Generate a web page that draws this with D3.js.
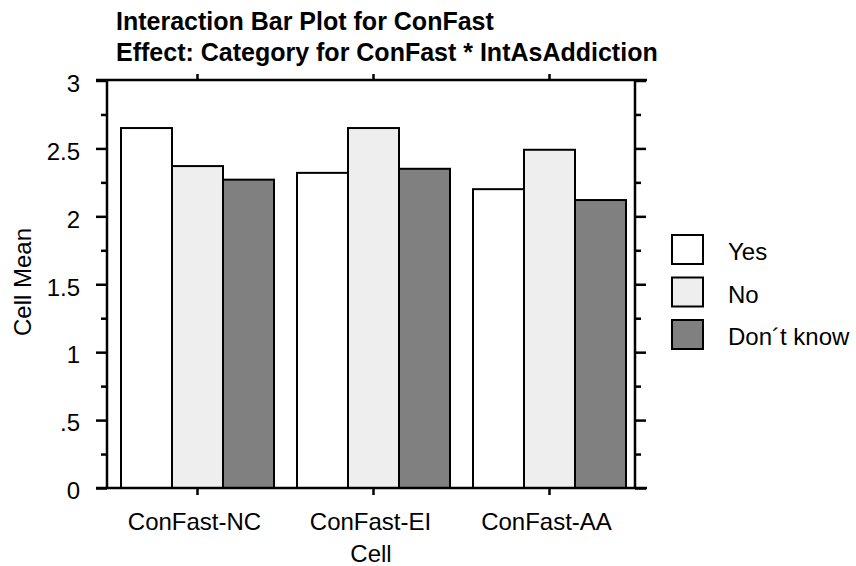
<!DOCTYPE html>
<html><head><meta charset="utf-8">
<script src="https://cdn.jsdelivr.net/npm/d3@7"></script>
<style>
body{margin:0;background:#fff;}
text{font-family:"Liberation Sans",Arial,sans-serif;fill:#000;}
</style></head>
<body><svg id="c" width="856" height="566"></svg>
<script>
const categories = ["ConFast-NC", "ConFast-EI", "ConFast-AA"];
const seriesNames = ["Yes", "No", "Don´t know"];
const yesValues = [2.65, 2.32, 2.20];
const noValues = [2.37, 2.65, 2.49];
const dontKnowValues = [2.27, 2.35, 2.12];
const yTickValues = [0, 0.5, 1, 1.5, 2, 2.5, 3];
const yTickLabels = ["0", ".5", "1", "1.5", "2", "2.5", "3"];
const yMinorTicks = [0.25, 0.75, 1.25, 1.75, 2.25, 2.75];
const titleLines = ["Interaction Bar Plot for ConFast", "Effect: Category for ConFast * IntAsAddiction"];
const fills = ["#ffffff", "#eeeeee", "#808080"];

const series = [yesValues, noValues, dontKnowValues];
const svg = d3.select("#c");
const frameL = 107, frameR = 635, frameT = 80, frameB = 488;
const fs = "24px";

const y = d3.scaleLinear().domain([0, 3]).range([frameB, frameT + 0.5]);
const x0 = d3.scaleBand().domain(categories).range([121, 626]).paddingInner(0.1307).paddingOuter(0);
const x1 = d3.scaleBand().domain(seriesNames).range([0, x0.bandwidth()]).padding(0);

// bars
const g = svg.append("g");
categories.forEach((c, i) => {
  seriesNames.forEach((s, j) => {
    g.append("rect")
      .attr("x", x0(c) + x1(s))
      .attr("y", y(series[j][i]))
      .attr("width", x1.bandwidth())
      .attr("height", y(0) - y(series[j][i]))
      .attr("fill", fills[j])
      .attr("stroke", "#000")
      .attr("stroke-width", 2);
  });
});

// axes
const sw = 2.5;
const leftAxis = d3.axisLeft(y).tickValues(yTickValues).tickSize(11).tickSizeOuter(0).tickPadding(16)
  .tickFormat((d, i) => yTickLabels[i]);
const gl = svg.append("g").attr("transform", `translate(${frameL},0)`).call(leftAxis);
gl.selectAll("text").style("font-size", fs).attr("dy", "0.45em").attr("x", -27);
gl.append("g").call(d3.axisLeft(y).tickValues(yMinorTicks).tickSize(6).tickFormat(""));

const gr = svg.append("g").attr("transform", `translate(${frameR},0)`)
  .call(d3.axisRight(y).tickValues(yTickValues).tickSize(11).tickSizeOuter(0).tickFormat(""));
gr.append("g").call(d3.axisRight(y).tickValues(yMinorTicks).tickSize(6).tickFormat(""));

const gb = svg.append("g").attr("transform", `translate(0,${frameB})`)
  .call(d3.axisBottom(x0).tickSize(7).tickSizeOuter(0));
gb.selectAll("text").style("font-size", fs).attr("y", 42).attr("dy", 0).attr("dx", -3);
const gt = svg.append("g").attr("transform", `translate(0,${frameT})`)
  .call(d3.axisTop(x0).tickSize(6).tickSizeOuter(0).tickFormat(""));

[gl, gr, gb, gt].forEach(a => {
  a.selectAll(".domain").remove();
  a.selectAll("line").attr("stroke", "#000").attr("stroke-width", sw);
});
// frame lines
svg.append("line").attr("x1", 96).attr("x2", 647).attr("y1", frameT).attr("y2", frameT).attr("stroke", "#000").attr("stroke-width", sw);
svg.append("line").attr("x1", 96).attr("x2", 647).attr("y1", frameB).attr("y2", frameB).attr("stroke", "#000").attr("stroke-width", sw);
svg.append("line").attr("x1", frameL).attr("x2", frameL).attr("y1", frameT).attr("y2", frameB).attr("stroke", "#000").attr("stroke-width", sw);
svg.append("line").attr("x1", frameR).attr("x2", frameR).attr("y1", frameT).attr("y2", frameB).attr("stroke", "#000").attr("stroke-width", sw);

// titles
titleLines.forEach((t, i) => {
  svg.append("text").attr("x", 116).attr("y", 30 + i * 31)
    .style("font-size", "25px").style("font-weight", "bold").text(t);
});

// axis titles
svg.append("text").attr("x", 371).attr("y", 562).attr("text-anchor", "middle").style("font-size", fs).text("Cell");
svg.append("text").attr("transform", "translate(31,282) rotate(-90)").attr("text-anchor", "middle").style("font-size", fs).text("Cell Mean");

// legend
const lg = svg.append("g");
seriesNames.forEach((s, j) => {
  const yy = 235 + j * 42.5;
  lg.append("rect").attr("x", 672).attr("y", yy).attr("width", 31).attr("height", 29)
    .attr("fill", fills[j]).attr("stroke", "#000").attr("stroke-width", 2);
  lg.append("text").attr("x", 728).attr("y", yy + 25).style("font-size", fs).text(s);
});
</script></body></html>
